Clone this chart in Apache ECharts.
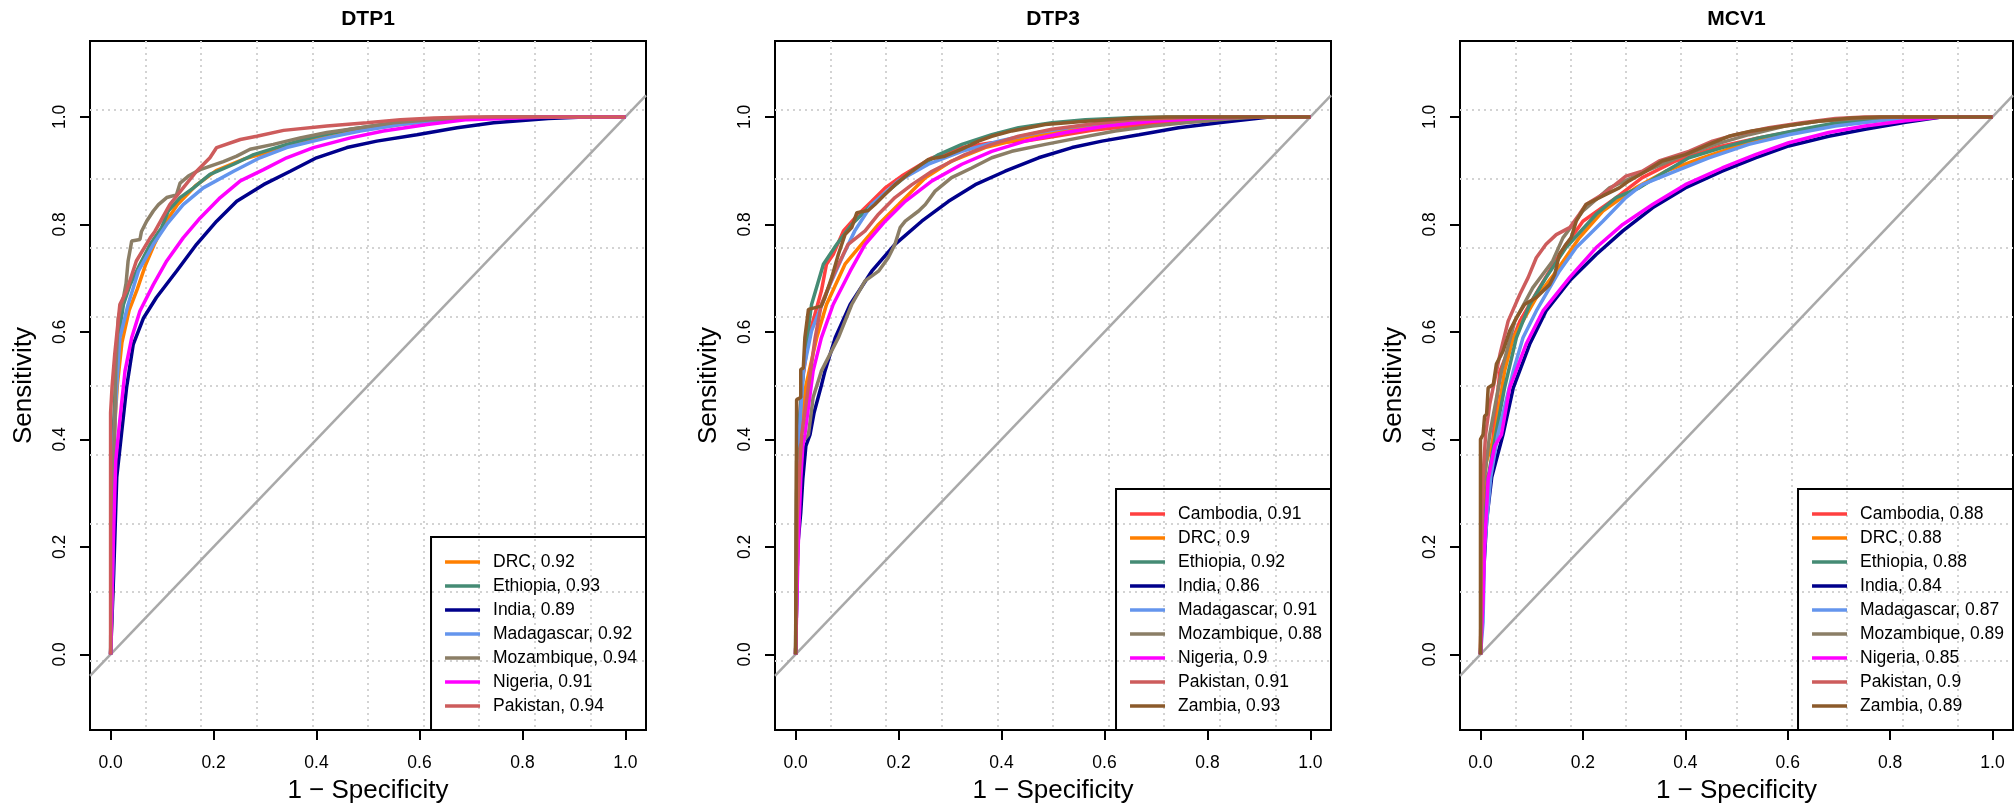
<!DOCTYPE html>
<html><head><meta charset="utf-8">
<script src="https://cdn.jsdelivr.net/npm/echarts@6/dist/echarts.min.js"></script>
<style>html,body{margin:0;padding:0;background:#fff}#c{width:2015px;height:809px}</style>
</head><body><div id="c"></div>
<script>
// ---------- tick labels ----------
const xTicks = [0, 0.2, 0.4, 0.6, 0.8, 1.0];
const yTicks = [0, 0.2, 0.4, 0.6, 0.8, 1.0];
const diagonal = [[-0.04, -0.04], [1.04, 1.04]];

// ---------- DTP1 ----------
const dtp1Countries = ['DRC', 'Ethiopia', 'India', 'Madagascar', 'Mozambique', 'Nigeria', 'Pakistan'];
const dtp1Auc = [0.92, 0.93, 0.89, 0.92, 0.94, 0.91, 0.94];
const dtp1_DRC = [[0,0],[0.004,0.12],[0.007,0.41],[0.013,0.5],[0.022,0.58],[0.036,0.64],[0.052,0.68],[0.068,0.725],[0.085,0.763],[0.104,0.8],[0.13,0.837],[0.165,0.872],[0.205,0.9],[0.26,0.922],[0.3,0.933],[0.36,0.952],[0.43,0.966],[0.49,0.976],[0.57,0.987],[0.66,0.995],[0.8,1],[1,1]];
const dtp1_Ethiopia = [[0,0],[0.002,0.3],[0.005,0.41],[0.01,0.52],[0.015,0.589],[0.025,0.651],[0.038,0.688],[0.057,0.726],[0.077,0.763],[0.099,0.794],[0.112,0.825],[0.135,0.85],[0.161,0.868],[0.193,0.893],[0.239,0.912],[0.278,0.93],[0.342,0.949],[0.4,0.964],[0.466,0.977],[0.53,0.986],[0.595,0.993],[0.66,0.998],[0.78,1],[1,1]];
const dtp1_India = [[0,0],[0.006,0.15],[0.012,0.33],[0.021,0.409],[0.031,0.496],[0.044,0.577],[0.064,0.626],[0.089,0.664],[0.128,0.713],[0.167,0.763],[0.206,0.806],[0.245,0.843],[0.297,0.874],[0.349,0.899],[0.4,0.924],[0.459,0.943],[0.517,0.955],[0.595,0.967],[0.673,0.98],[0.744,0.989],[0.85,0.997],[0.92,1],[1,1]];
const dtp1_Madagascar = [[0,0],[0.004,0.15],[0.007,0.409],[0.012,0.5],[0.018,0.589],[0.034,0.651],[0.054,0.713],[0.083,0.763],[0.109,0.8],[0.141,0.837],[0.18,0.868],[0.239,0.899],[0.29,0.924],[0.342,0.943],[0.42,0.961],[0.485,0.974],[0.563,0.986],[0.628,0.993],[0.725,0.999],[0.85,1],[1,1]];
const dtp1_Mozambique = [[0,0],[0.003,0.15],[0.005,0.35],[0.008,0.409],[0.01,0.53],[0.015,0.626],[0.025,0.664],[0.03,0.69],[0.034,0.732],[0.041,0.769],[0.057,0.772],[0.06,0.787],[0.07,0.806],[0.083,0.825],[0.093,0.837],[0.109,0.85],[0.128,0.855],[0.135,0.877],[0.151,0.89],[0.174,0.902],[0.219,0.917],[0.245,0.927],[0.271,0.94],[0.316,0.949],[0.368,0.961],[0.42,0.971],[0.485,0.98],[0.55,0.989],[0.628,0.995],[0.75,1],[1,1]];
const dtp1_Nigeria = [[0,0],[0.005,0.2],[0.01,0.36],[0.015,0.409],[0.028,0.527],[0.041,0.589],[0.057,0.639],[0.083,0.688],[0.109,0.732],[0.141,0.775],[0.174,0.812],[0.213,0.85],[0.252,0.881],[0.297,0.902],[0.342,0.924],[0.394,0.943],[0.466,0.961],[0.53,0.974],[0.615,0.986],[0.693,0.995],[0.85,1],[1,1]];
const dtp1_Pakistan = [[0,0],[0,0.45],[0.003,0.5],[0.008,0.558],[0.018,0.651],[0.031,0.676],[0.05,0.732],[0.077,0.775],[0.086,0.787],[0.115,0.837],[0.141,0.868],[0.167,0.899],[0.193,0.924],[0.206,0.943],[0.252,0.958],[0.284,0.964],[0.336,0.975],[0.42,0.983],[0.498,0.989],[0.563,0.995],[0.628,0.998],[0.7,1],[1,1]];

// ---------- DTP3 ----------
const dtp3Countries = ['Cambodia', 'DRC', 'Ethiopia', 'India', 'Madagascar', 'Mozambique', 'Nigeria', 'Pakistan', 'Zambia'];
const dtp3Auc = [0.91, 0.9, 0.92, 0.86, 0.91, 0.88, 0.9, 0.91, 0.93];
const dtp3_Cambodia = [[0,0],[0.003,0.2],[0.006,0.409],[0.012,0.5],[0.025,0.589],[0.05,0.676],[0.06,0.726],[0.073,0.744],[0.093,0.788],[0.122,0.819],[0.148,0.843],[0.174,0.868],[0.206,0.89],[0.232,0.905],[0.265,0.924],[0.323,0.943],[0.381,0.952],[0.446,0.955],[0.511,0.965],[0.576,0.975],[0.66,0.984],[0.725,0.99],[0.85,0.994],[0.9,1],[1,1]];
const dtp3_DRC = [[0,0],[0.004,0.2],[0.01,0.409],[0.02,0.5],[0.041,0.589],[0.06,0.651],[0.096,0.726],[0.128,0.763],[0.161,0.8],[0.2,0.837],[0.252,0.887],[0.303,0.918],[0.368,0.943],[0.446,0.961],[0.53,0.977],[0.615,0.987],[0.693,0.995],[0.85,1],[1,1]];
const dtp3_Ethiopia = [[0,0],[0.002,0.3],[0.005,0.409],[0.018,0.558],[0.031,0.651],[0.054,0.726],[0.08,0.763],[0.109,0.8],[0.148,0.837],[0.187,0.868],[0.226,0.899],[0.278,0.93],[0.323,0.949],[0.381,0.967],[0.433,0.98],[0.498,0.989],[0.563,0.995],[0.66,0.999],[0.75,1],[1,1]];
const dtp3_India = [[0,0],[0.004,0.2],[0.01,0.264],[0.014,0.326],[0.02,0.388],[0.028,0.409],[0.036,0.45],[0.05,0.5],[0.057,0.527],[0.077,0.589],[0.106,0.651],[0.148,0.713],[0.193,0.763],[0.245,0.806],[0.297,0.843],[0.349,0.874],[0.407,0.899],[0.472,0.924],[0.537,0.943],[0.595,0.955],[0.667,0.967],[0.744,0.98],[0.83,0.99],[0.92,1],[1,1]];
const dtp3_Madagascar = [[0,0],[0.004,0.2],[0.007,0.409],[0.015,0.527],[0.031,0.602],[0.064,0.682],[0.093,0.744],[0.115,0.788],[0.148,0.837],[0.2,0.881],[0.258,0.912],[0.323,0.936],[0.394,0.955],[0.472,0.971],[0.55,0.983],[0.628,0.992],[0.75,0.998],[0.85,1],[1,1]];
const dtp3_Mozambique = [[0,0],[0.002,0.36],[0.01,0.39],[0.025,0.409],[0.034,0.478],[0.05,0.527],[0.083,0.589],[0.109,0.651],[0.135,0.695],[0.161,0.713],[0.18,0.738],[0.193,0.763],[0.203,0.794],[0.213,0.806],[0.239,0.825],[0.252,0.837],[0.271,0.862],[0.303,0.887],[0.342,0.905],[0.381,0.924],[0.42,0.936],[0.485,0.949],[0.55,0.961],[0.621,0.974],[0.693,0.983],[0.757,0.989],[0.85,0.997],[0.9,1],[1,1]];
const dtp3_Nigeria = [[0,0],[0.005,0.2],[0.01,0.326],[0.014,0.388],[0.018,0.409],[0.034,0.527],[0.05,0.589],[0.073,0.651],[0.106,0.713],[0.135,0.763],[0.174,0.806],[0.213,0.843],[0.265,0.881],[0.323,0.912],[0.381,0.936],[0.446,0.955],[0.524,0.971],[0.602,0.983],[0.693,0.992],[0.8,0.998],[0.88,1],[1,1]];
const dtp3_Pakistan = [[0,0],[0.003,0.25],[0.008,0.35],[0.012,0.409],[0.038,0.589],[0.05,0.651],[0.077,0.713],[0.102,0.763],[0.135,0.788],[0.161,0.819],[0.193,0.85],[0.226,0.874],[0.265,0.899],[0.329,0.93],[0.381,0.949],[0.433,0.964],[0.498,0.977],[0.576,0.987],[0.66,0.995],[0.78,1],[1,1]];
const dtp3_Zambia = [[0,0],[0.002,0.474],[0.01,0.478],[0.01,0.53],[0.015,0.533],[0.018,0.589],[0.025,0.642],[0.05,0.648],[0.057,0.664],[0.07,0.701],[0.083,0.744],[0.096,0.781],[0.109,0.794],[0.119,0.822],[0.141,0.826],[0.154,0.837],[0.174,0.856],[0.193,0.874],[0.226,0.899],[0.258,0.921],[0.29,0.927],[0.323,0.94],[0.355,0.955],[0.381,0.964],[0.42,0.974],[0.485,0.986],[0.563,0.992],[0.66,0.998],[0.72,1],[1,1]];

// ---------- MCV1 ----------
const mcv1Countries = ['Cambodia', 'DRC', 'Ethiopia', 'India', 'Madagascar', 'Mozambique', 'Nigeria', 'Pakistan', 'Zambia'];
const mcv1Auc = [0.88, 0.88, 0.88, 0.84, 0.87, 0.89, 0.85, 0.9, 0.89];
const mcv1_Cambodia = [[0,0],[0.005,0.25],[0.012,0.33],[0.02,0.34],[0.025,0.409],[0.038,0.527],[0.077,0.62],[0.115,0.682],[0.154,0.744],[0.2,0.806],[0.265,0.85],[0.316,0.887],[0.381,0.918],[0.459,0.943],[0.543,0.961],[0.615,0.974],[0.693,0.986],[0.8,0.996],[0.9,1],[1,1]];
const mcv1_DRC = [[0,0],[0.004,0.3],[0.012,0.36],[0.028,0.409],[0.047,0.527],[0.064,0.589],[0.109,0.664],[0.148,0.713],[0.193,0.775],[0.239,0.825],[0.303,0.868],[0.362,0.899],[0.433,0.924],[0.511,0.949],[0.595,0.967],[0.68,0.983],[0.78,0.994],[0.88,1],[1,1]];
const mcv1_Ethiopia = [[0,0],[0.005,0.2],[0.015,0.33],[0.03,0.41],[0.047,0.496],[0.07,0.589],[0.096,0.651],[0.128,0.701],[0.167,0.757],[0.226,0.819],[0.265,0.85],[0.31,0.868],[0.362,0.899],[0.407,0.924],[0.472,0.943],[0.543,0.961],[0.628,0.977],[0.693,0.989],[0.8,0.997],[0.88,1],[1,1]];
const mcv1_India = [[0,0],[0.006,0.15],[0.012,0.25],[0.022,0.33],[0.044,0.409],[0.064,0.496],[0.096,0.577],[0.128,0.639],[0.174,0.695],[0.226,0.744],[0.278,0.788],[0.336,0.831],[0.4,0.868],[0.472,0.899],[0.537,0.924],[0.602,0.946],[0.68,0.964],[0.751,0.977],[0.83,0.99],[0.9,1],[1,1]];
const mcv1_Madagascar = [[0,0],[0.005,0.06],[0.008,0.2],[0.02,0.33],[0.034,0.409],[0.064,0.527],[0.083,0.589],[0.109,0.639],[0.154,0.713],[0.187,0.757],[0.239,0.806],[0.284,0.85],[0.316,0.874],[0.381,0.899],[0.446,0.924],[0.524,0.949],[0.602,0.967],[0.693,0.983],[0.8,0.995],[0.88,1],[1,1]];
const mcv1_Mozambique = [[0,0],[0.004,0.3],[0.018,0.409],[0.041,0.527],[0.067,0.62],[0.102,0.682],[0.141,0.732],[0.161,0.775],[0.2,0.825],[0.252,0.868],[0.323,0.899],[0.4,0.93],[0.459,0.949],[0.524,0.967],[0.595,0.983],[0.66,0.992],[0.75,0.998],[0.82,1],[1,1]];
const mcv1_Nigeria = [[0,0],[0.005,0.1],[0.008,0.2],[0.015,0.326],[0.028,0.388],[0.041,0.409],[0.057,0.496],[0.089,0.577],[0.122,0.639],[0.174,0.701],[0.226,0.757],[0.278,0.8],[0.336,0.837],[0.4,0.874],[0.472,0.905],[0.537,0.93],[0.602,0.952],[0.68,0.971],[0.751,0.983],[0.83,0.993],[0.9,1],[1,1]];
const mcv1_Pakistan = [[0,0],[0.003,0.3],[0.01,0.409],[0.018,0.465],[0.038,0.558],[0.054,0.62],[0.077,0.67],[0.093,0.701],[0.109,0.738],[0.128,0.763],[0.148,0.781],[0.174,0.794],[0.193,0.819],[0.206,0.837],[0.239,0.856],[0.284,0.89],[0.316,0.899],[0.349,0.918],[0.407,0.936],[0.453,0.955],[0.498,0.967],[0.563,0.98],[0.628,0.989],[0.693,0.997],[0.75,1],[1,1]];
const mcv1_Zambia = [[0,0],[0,0.4],[0.005,0.409],[0.008,0.443],[0.012,0.447],[0.015,0.496],[0.025,0.502],[0.031,0.54],[0.044,0.564],[0.057,0.602],[0.07,0.626],[0.086,0.651],[0.109,0.664],[0.135,0.688],[0.145,0.707],[0.154,0.744],[0.167,0.763],[0.177,0.775],[0.187,0.806],[0.206,0.837],[0.239,0.853],[0.271,0.868],[0.29,0.881],[0.323,0.899],[0.355,0.918],[0.4,0.93],[0.446,0.949],[0.485,0.964],[0.53,0.974],[0.595,0.983],[0.66,0.992],[0.725,0.998],[0.78,1],[1,1]];

// ---------- styles ----------
const COLORS = {
  Cambodia: '#FF4040', DRC: '#FF7F00', Ethiopia: '#458B74', India: '#00008B',
  Madagascar: '#6495ED', Mozambique: '#8B7E66', Nigeria: '#FF00FF', Pakistan: '#CD5C5C', Zambia: '#8B5A2B'
};
const FONT = '"Liberation Sans", Arial, Helvetica, sans-serif';
const W = 2015, H = 809, TOP = 41, PH = 689;

const panels = [
  { title: 'DTP1', countries: dtp1Countries, aucs: dtp1Auc,
    curves: [dtp1_DRC, dtp1_Ethiopia, dtp1_India, dtp1_Madagascar, dtp1_Mozambique, dtp1_Nigeria, dtp1_Pakistan],
    left: 90, width: 556 },
  { title: 'DTP3', countries: dtp3Countries, aucs: dtp3Auc,
    curves: [dtp3_Cambodia, dtp3_DRC, dtp3_Ethiopia, dtp3_India, dtp3_Madagascar, dtp3_Mozambique, dtp3_Nigeria, dtp3_Pakistan, dtp3_Zambia],
    left: 775, width: 556 },
  { title: 'MCV1', countries: mcv1Countries, aucs: mcv1Auc,
    curves: [mcv1_Cambodia, mcv1_DRC, mcv1_Ethiopia, mcv1_India, mcv1_Madagascar, mcv1_Mozambique, mcv1_Nigeria, mcv1_Pakistan, mcv1_Zambia],
    left: 1460, width: 553 }
];

const gridLineStyle = { color: '#D3D3D3', width: 2, type: [2, 4] };
const grid = [], xAxis = [], yAxis = [], series = [], legend = [], title = [];
panels.forEach((p, i) => {
  grid.push({ left: p.left, top: TOP, width: p.width, height: PH, show: true,
    borderColor: '#000', borderWidth: 2, backgroundColor: 'transparent' });
  // main axes
  xAxis.push({ type: 'value', gridIndex: i, min: -0.04, max: 1.04, position: 'bottom',
    axisLine: { show: false, onZero: false }, splitLine: { show: false },
    axisTick: { show: true, customValues: xTicks, length: 10, lineStyle: { color: '#000', width: 2 } },
    axisLabel: { customValues: xTicks, formatter: v => v.toFixed(1), margin: 24, fontSize: 17.5, color: '#000', fontFamily: FONT },
    name: '1 \u2212 Specificity', nameLocation: 'middle', nameGap: 48,
    nameTextStyle: { fontSize: 26, color: '#000', fontFamily: FONT } });
  // grid-line axis (10 equal cells across the plot region)
  xAxis.push({ type: 'value', gridIndex: i, min: 0, max: 10, interval: 1, position: 'top',
    axisLine: { show: false, onZero: false }, axisTick: { show: false }, axisLabel: { show: false },
    splitLine: { show: true, showMinLine: false, showMaxLine: false, lineStyle: gridLineStyle } });
  yAxis.push({ type: 'value', gridIndex: i, min: -0.1407, max: 1.1413, position: 'left',
    axisLine: { show: false, onZero: false }, splitLine: { show: false },
    axisTick: { show: true, customValues: yTicks, length: 10, lineStyle: { color: '#000', width: 2 } },
    axisLabel: { customValues: yTicks, formatter: v => v.toFixed(1), rotate: 90, margin: 21, fontSize: 17.5, color: '#000', fontFamily: FONT },
    name: 'Sensitivity', nameLocation: 'middle', nameGap: 53,
    nameTextStyle: { fontSize: 26, color: '#000', fontFamily: FONT } });
  yAxis.push({ type: 'value', gridIndex: i, min: 0, max: 10, interval: 1, position: 'right',
    axisLine: { show: false, onZero: false }, axisTick: { show: false }, axisLabel: { show: false },
    splitLine: { show: true, showMinLine: false, showMaxLine: false, lineStyle: gridLineStyle } });

  series.push({ type: 'line', name: 'identity' + i, xAxisIndex: 2 * i, yAxisIndex: 2 * i,
    data: diagonal, symbol: 'none', silent: true, lineStyle: { color: '#A9A9A9', width: 2.5 }, z: 2 });

  const names = [];
  p.countries.forEach((c, j) => {
    const nm = c + ', ' + p.aucs[j];
    names.push(nm);
    series.push({ type: 'line', name: nm, xAxisIndex: 2 * i, yAxisIndex: 2 * i,
      data: p.curves[j], symbol: 'none', silent: true,
      lineStyle: { width: 3.5, color: COLORS[c] }, itemStyle: { color: COLORS[c] }, z: 3 });
  });

  legend.push({ data: names, orient: 'vertical', right: W - (p.left + p.width), bottom: H - (TOP + PH),
    padding: [16, 9, 15, 14], icon: 'rect', itemWidth: 35, itemHeight: 3.5, itemGap: 6,
    itemStyle: { borderWidth: 0 },
    borderColor: '#000', borderWidth: 2, backgroundColor: 'transparent', selectedMode: false,
    textStyle: { fontSize: 17.5, lineHeight: 18, color: '#000', fontFamily: FONT, padding: [0, 0, 0, 8] } });

  title.push({ text: p.title, left: p.left + p.width / 2, top: 9, textAlign: 'center', padding: 0,
    textStyle: { fontSize: 21, fontWeight: 'bold', color: '#000', fontFamily: FONT } });
});

const chart = echarts.init(document.getElementById('c'), null, { renderer: 'canvas' });
chart.setOption({ animation: false, backgroundColor: '#fff', title, grid, xAxis, yAxis, legend, series });
</script></body></html>
